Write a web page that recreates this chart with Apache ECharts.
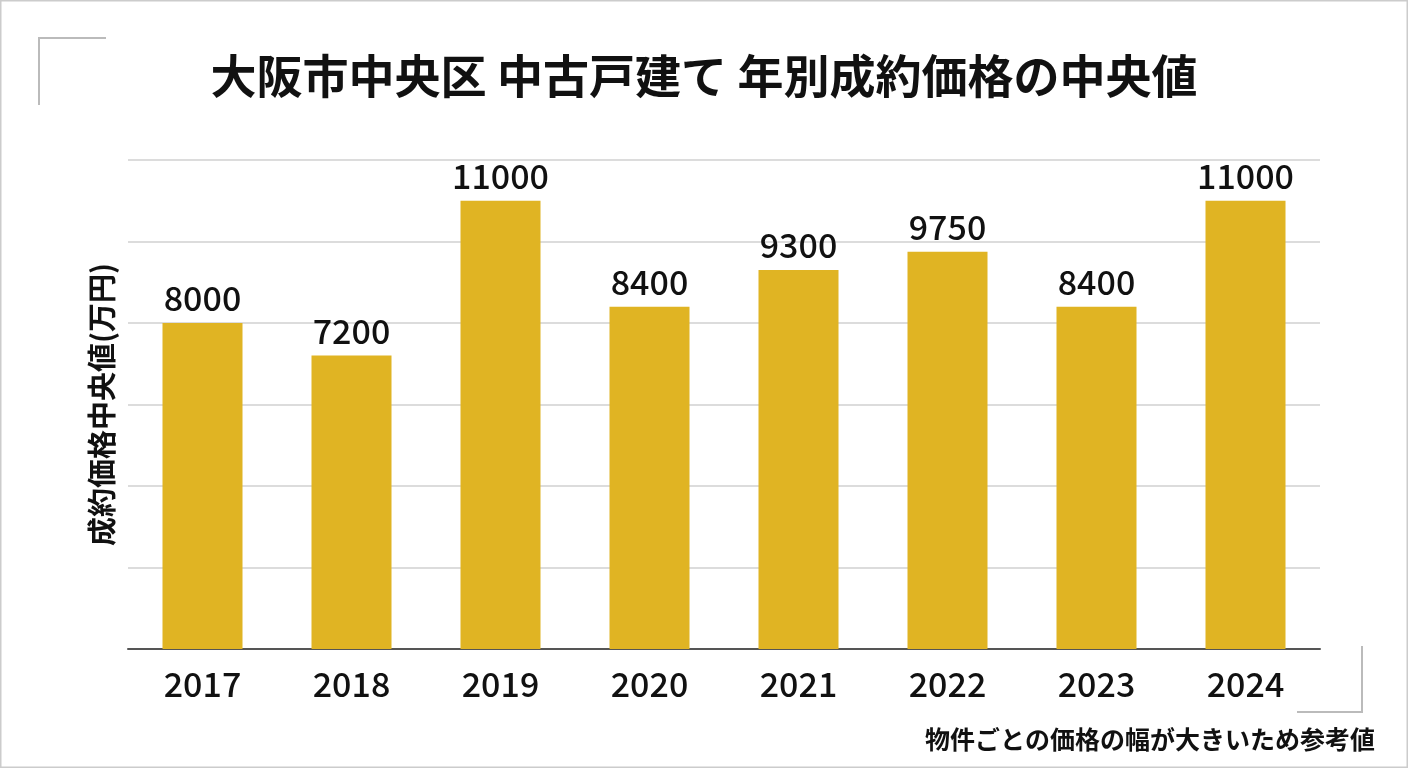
<!DOCTYPE html>
<html>
<head>
<meta charset="utf-8">
<script src="https://cdn.jsdelivr.net/npm/echarts@6/dist/echarts.min.js"></script>
<style>
  html, body { margin: 0; padding: 0; background: #fff; }
  #main { width: 1408px; height: 768px; }
</style>
</head>
<body>
<div id="main"></div>
<script>
const years = ["2017", "2018", "2019", "2020", "2021", "2022", "2023", "2024"];
const medianPrices = [8000, 7200, 11000, 8400, 9300, 9750, 8400, 11000];

const font = "'Noto Sans CJK JP', 'Noto Sans', sans-serif";
const chart = echarts.init(document.getElementById("main"));

chart.setOption({
  backgroundColor: "#fff",
  textStyle: { fontFamily: font },
  title: {
    text: "大阪市中央区 中古戸建て 年別成約価格の中央値",
    left: "center",
    top: 48,
    textStyle: { fontSize: 46, fontWeight: "bold", color: "#111", fontFamily: font },
  },
  grid: { left: 128, right: 88, top: 160, bottom: 119 },
  xAxis: {
    type: "category",
    data: years,
    axisLine: { lineStyle: { color: "#555", width: 2 } },
    axisTick: { show: false },
    axisLabel: { fontSize: 34, fontWeight: 500, color: "#111", margin: 18, fontFamily: font },
  },
  yAxis: {
    type: "value",
    min: 0,
    max: 12000,
    interval: 2000,
    name: "成約価格中央値(万円)",
    nameLocation: "middle",
    nameGap: 12,
    nameTextStyle: { fontSize: 29, fontWeight: "bold", color: "#111", fontFamily: font },
    axisLabel: { show: false },
    axisLine: { show: false },
    axisTick: { show: false },
    splitLine: { lineStyle: { color: "#d0d0d0", width: 1.5 } },
  },
  series: [
    {
      type: "bar",
      data: medianPrices,
      barWidth: 80,
      itemStyle: { color: "#E0B423" },
      label: {
        show: true,
        position: "top",
        distance: 8,
        fontSize: 34,
        fontWeight: 500,
        color: "#111",
        fontFamily: font,
      },
    },
  ],
  graphic: [
    {
      type: "rect",
      shape: { x: 0.5, y: 0.5, width: 1407, height: 767 },
      style: { fill: "none", stroke: "#ccc", lineWidth: 2 },
    },
    {
      type: "polyline",
      shape: { points: [[39, 105], [39, 38], [106, 38]] },
      style: { fill: "none", stroke: "#bbb", lineWidth: 2 },
    },
    {
      type: "polyline",
      shape: { points: [[1297, 712], [1362, 712], [1362, 646]] },
      style: { fill: "none", stroke: "#bbb", lineWidth: 2 },
    },
    {
      type: "text",
      right: 33,
      top: 727,
      style: {
        text: "物件ごとの価格の幅が大きいため参考値",
        fontSize: 25,
        fontWeight: "bold",
        fill: "#111",
        fontFamily: font,
      },
    },
  ],
});
</script>
</body>
</html>
